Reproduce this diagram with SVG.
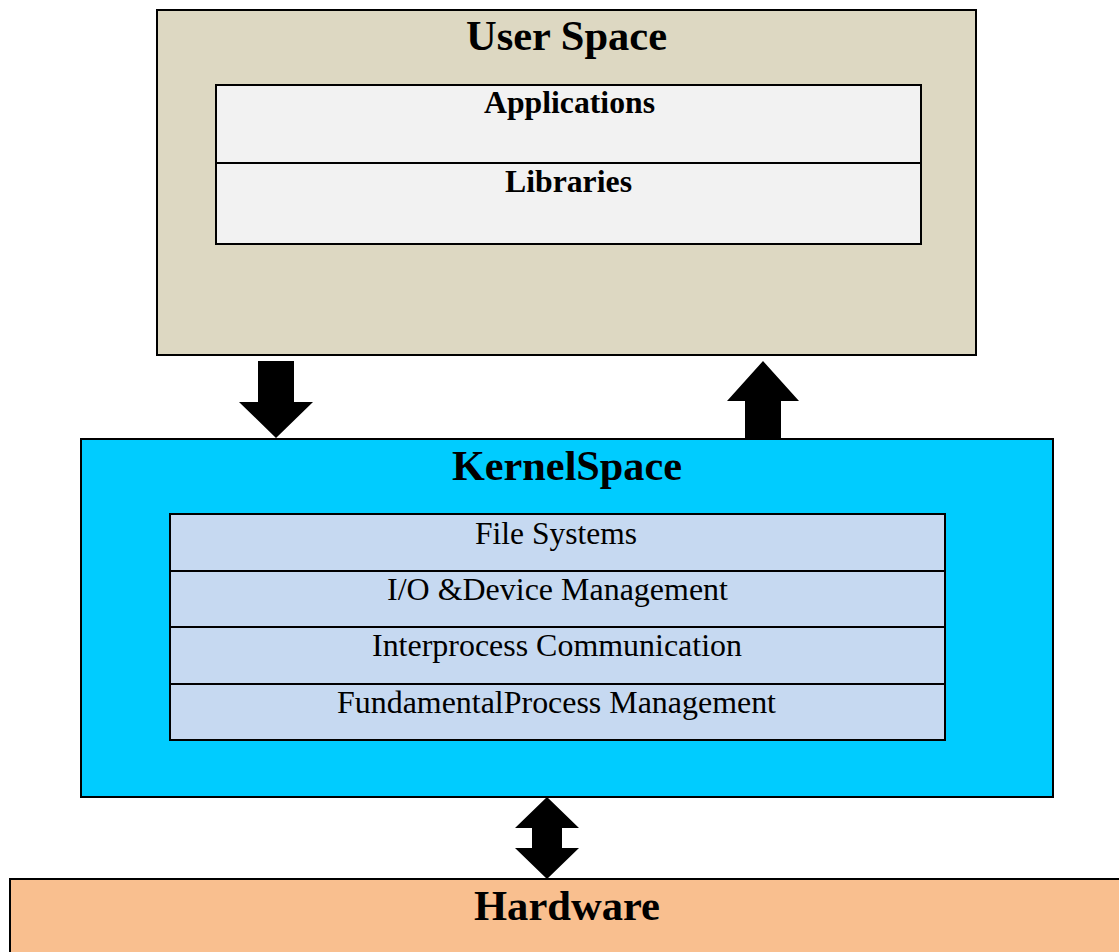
<svg xmlns="http://www.w3.org/2000/svg" width="1119" height="952" viewBox="0 0 1119 952">
  <style>
    .box { stroke: #000; stroke-width: 2; }
    .title { font-family: "Liberation Serif", "Times New Roman", serif; font-weight: bold; font-size: 42px; text-anchor: middle; fill: #000; }
    .sub { font-family: "Liberation Serif", "Times New Roman", serif; font-weight: bold; font-size: 31px; text-anchor: middle; fill: #000; }
    .row { font-family: "Liberation Serif", "Times New Roman", serif; font-size: 31px; text-anchor: middle; fill: #000; }
    .arrow { fill: #000; }
  </style>
  <rect width="1119" height="952" fill="#fff"/>

  <!-- User space -->
  <g id="user-space">
    <rect class="box" x="157" y="10" width="819" height="345" fill="#DDD8C2"/>
    <text class="title" x="566.5" y="50" textLength="201" lengthAdjust="spacingAndGlyphs">User Space</text>
    <rect class="box" x="216" y="85" width="705" height="159" fill="#F2F2F2"/>
    <line class="box" x1="216" y1="163" x2="921" y2="163"/>
    <text class="sub" x="569.5" y="113" textLength="171" lengthAdjust="spacingAndGlyphs">Applications</text>
    <text class="sub" x="568.5" y="192" textLength="127" lengthAdjust="spacingAndGlyphs">Libraries</text>
  </g>

  <!-- Kernel space -->
  <g id="kernel-space">
    <rect class="box" x="81" y="439" width="972" height="358" fill="#00CCFF"/>
    <text class="title" x="567" y="480" textLength="230" lengthAdjust="spacingAndGlyphs">KernelSpace</text>
    <rect class="box" x="170" y="514" width="775" height="226" fill="#C6D9F1"/>
    <line class="box" x1="170" y1="571" x2="945" y2="571"/>
    <line class="box" x1="170" y1="627" x2="945" y2="627"/>
    <line class="box" x1="170" y1="684" x2="945" y2="684"/>
    <text class="row" x="556" y="544" textLength="162" lengthAdjust="spacingAndGlyphs">File Systems</text>
    <text class="row" x="557.5" y="600" textLength="341" lengthAdjust="spacingAndGlyphs">I/O &amp;Device Management</text>
    <text class="row" x="557" y="656" textLength="370" lengthAdjust="spacingAndGlyphs">Interprocess Communication</text>
    <text class="row" x="556.5" y="713" textLength="439" lengthAdjust="spacingAndGlyphs">FundamentalProcess Management</text>
  </g>

  <!-- Hardware -->
  <g id="hardware">
    <rect class="box" x="10" y="879" width="1115" height="80" fill="#F9BF8F"/>
    <text class="title" x="567" y="920" textLength="186" lengthAdjust="spacingAndGlyphs">Hardware</text>
  </g>

  <!-- Block arrows between layers -->
  <g id="connectors">
    <polygon class="arrow" points="258,361 294,361 294,402 313,402 276,438 239,402 258,402"/>
    <polygon class="arrow" points="763,361 799,401 781,401 781,438 745,438 745,401 727,401"/>
    <polygon class="arrow" points="547,797 579,828 562,828 562,848 579,848 547,879 515,848 532,848 532,828 515,828"/>
  </g>
</svg>
